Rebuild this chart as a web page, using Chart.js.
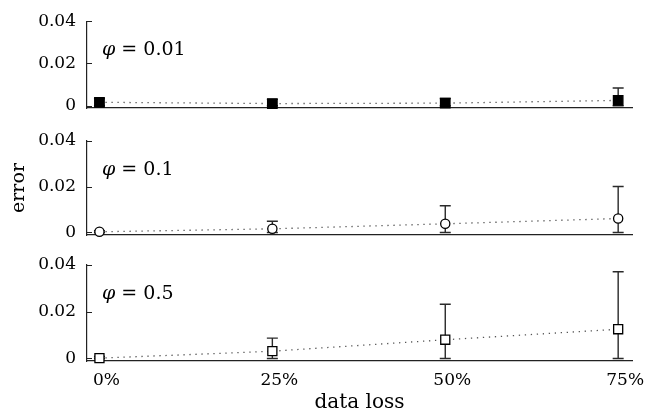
<!DOCTYPE html>
<html>
<head>
<meta charset="utf-8">
<script src="https://cdn.jsdelivr.net/npm/chart.js@4.4.0/dist/chart.umd.min.js"></script>
<style>
  html, body { margin: 0; padding: 0; background: #fff; }
  #wrap { position: relative; width: 648px; height: 418px; }
  #wrap canvas { position: absolute; left: 0; top: 0; }
</style>
</head>
<body>
<div id="wrap">
  <canvas id="panel-0" width="648" height="418"></canvas>
  <canvas id="panel-1" width="648" height="418"></canvas>
  <canvas id="panel-2" width="648" height="418"></canvas>
</div>
<script>
// x categories (data loss in %) and their labels
const dataLoss = [0, 25, 50, 75];
const lossLabels = ['0%', '25%', '50%', '75%'];
const errorTicks = [0, 0.02, 0.04];
const phiValues = ['0.01', '0.1', '0.5'];

// phi = 0.01
const meanPhi001 = [0.0016, 0.0010, 0.0012, 0.0025];
const upperPhi001 = [0.0034, 0.0030, 0.0034, 0.0084];
const lowerPhi001 = [0, 0, 0, 0];
// phi = 0.1
const meanPhi01 = [0.0003, 0.0016, 0.0038, 0.0061];
const upperPhi01 = [0.0008, 0.0049, 0.0117, 0.0201];
const lowerPhi01 = [0, 0, 0, 0];
// phi = 0.5
const meanPhi05 = [0.0001, 0.0031, 0.0080, 0.0125];
const upperPhi05 = [0.0008, 0.0087, 0.0232, 0.0371];
const lowerPhi05 = [0, 0, 0, 0];

Chart.defaults.font.family = 'DejaVu Serif';
Chart.defaults.font.size = 17;
Chart.defaults.color = '#000';

// draws the vertical error bars with caps, under the markers
const errorBarPlugin = {
    id: 'errorBars',
    beforeDatasetsDraw(chart, args, opts) {
        const ctx = chart.ctx;
        const xs = chart.scales.x;
        const ys = chart.scales.y;
        ctx.save();
        ctx.strokeStyle = '#2a2a2a';
        ctx.lineWidth = 1.4;
        dataLoss.forEach((v, i) => {
            const x = xs.getPixelForValue(v);
            const yTop = ys.getPixelForValue(opts.upper[i]);
            const yBot = ys.getPixelForValue(opts.lower[i]);
            ctx.beginPath();
            ctx.moveTo(x, yTop); ctx.lineTo(x, yBot);
            ctx.moveTo(x - 5.5, yTop); ctx.lineTo(x + 5.5, yTop);
            ctx.moveTo(x - 5.5, yBot); ctx.lineTo(x + 5.5, yBot);
            ctx.stroke();
        });
        ctx.restore();
    },
    afterDraw(chart, args, opts) {
        const ctx = chart.ctx;
        const area = chart.chartArea;
        const ys = chart.scales.y;
        ctx.save();
        // small inward ticks on the y axis
        ctx.strokeStyle = '#222';
        ctx.lineWidth = 1;
        errorTicks.forEach(v => {
            const y = Math.round(ys.getPixelForValue(v)) + 0.5;
            ctx.beginPath();
            ctx.moveTo(area.left, y); ctx.lineTo(area.left + 5, y);
            ctx.stroke();
        });
        // phi label
        const x0 = area.left + 15;
        const y0 = area.top + 29;
        ctx.fillStyle = '#000';
        ctx.textBaseline = 'middle';
        ctx.font = 'italic 19px "DejaVu Serif"';
        ctx.fillText('φ', x0, y0);
        const w = ctx.measureText('φ').width;
        ctx.font = '19px "DejaVu Serif"';
        ctx.fillText(' = ' + opts.phi, x0 + w, y0);
        ctx.restore();
    }
};

function buildPanel(idx, means, uppers, lowers, marker, areaTop, areaBottom) {
    const isBottom = idx === 2;
    const ctx = document.getElementById('panel-' + idx).getContext('2d');
    return new Chart(ctx, {
        type: 'scatter',
        data: {
            datasets: [{
                data: dataLoss.map((v, i) => ({ x: v, y: means[i] })),
                showLine: true,
                borderColor: '#555',
                borderWidth: 1.3,
                borderDash: [1.3, 4.7],
                pointStyle: marker.style,
                pointRadius: marker.radius,
                pointBackgroundColor: marker.fill,
                pointBorderColor: '#000',
                pointBorderWidth: 1.3,
                clip: false
            }]
        },
        options: {
            responsive: false,
            animation: false,
            layout: {
                autoPadding: false,
                padding: { top: areaTop, left: 0, right: 16, bottom: 0 }
            },
            plugins: {
                legend: { display: false },
                tooltip: { enabled: false },
                errorBars: { upper: uppers, lower: lowers, phi: phiValues[idx] }
            },
            scales: {
                x: {
                    type: 'linear',
                    min: -1.8,
                    max: 77,
                    afterBuildTicks: s => { s.ticks = dataLoss.map(v => ({ value: v })); },
                    afterFit: s => { s.height = 418 - areaBottom; },
                    grid: { display: true, drawOnChartArea: false, drawTicks: false },
                    border: { display: true, color: '#222', width: 1.3 },
                    ticks: {
                        display: isBottom,
                        padding: 9,
                        labelOffset: 7,
                        maxRotation: 0,
                        callback: (v) => lossLabels[dataLoss.indexOf(v)]
                    },
                    title: {
                        display: isBottom,
                        text: 'data loss',
                        font: { size: 20 },
                        padding: { top: 0, bottom: 3 }
                    }
                },
                y: {
                    min: -0.0011,
                    max: 0.04,
                    afterBuildTicks: s => { s.ticks = errorTicks.map(v => ({ value: v })); },
                    afterFit: s => { s.width = 87; },
                    grid: { display: true, drawOnChartArea: false, drawTicks: false },
                    border: { display: true, color: '#222', width: 1.2 },
                    ticks: {
                        padding: 11,
                        callback: v => v === 0 ? '0' : v.toFixed(2)
                    },
                    title: {
                        display: idx === 1,
                        text: 'error',
                        font: { size: 19 },
                        padding: { top: 8, bottom: 0 }
                    }
                }
            }
        },
        plugins: [errorBarPlugin]
    });
}

buildPanel(0, meanPhi001, upperPhi001, lowerPhi001, { style: 'rect', radius: 6.7, fill: '#000' }, 13, 108);
buildPanel(1, meanPhi01, upperPhi01, lowerPhi01, { style: 'circle', radius: 4.6, fill: '#fff' }, 141, 235);
buildPanel(2, meanPhi05, upperPhi05, lowerPhi05, { style: 'rect', radius: 6.4, fill: '#fff' }, 265, 361);
</script>
</body>
</html>
